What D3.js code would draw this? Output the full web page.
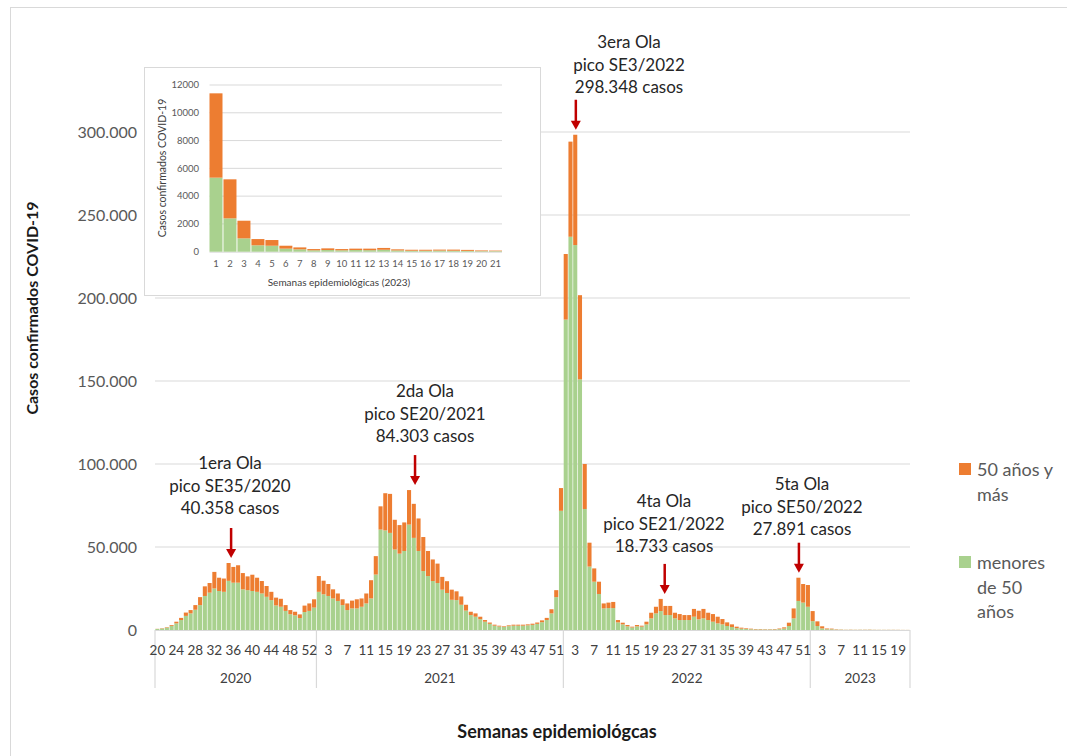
<!DOCTYPE html>
<html>
<head>
<meta charset="utf-8">
<script src="https://cdn.jsdelivr.net/npm/d3@7"></script>
<style>
  body { margin: 0; background: #fff; }
  svg { display: block; font-family: Lato, "Open Sans", sans-serif; }
</style>
</head>
<body>
<svg id="chart" width="1067" height="756"></svg>
<script>
// ---------------- DATA ----------------
// Epidemiological week ranges shown on the main axis
const years = ["2020", "2021", "2022", "2023"];
const firstWeek = [20, 1, 1, 1];
const lastWeek = [53, 52, 52, 21];

// menores de 50 años (green), per week
const menores2020 = [600, 900, 1400, 2500, 4000, 6000, 8500, 10000, 12200, 15000, 20500, 22500, 25000, 23500, 23000, 29600, 28500, 28500, 24500, 24000, 23500, 23000, 22000, 20000, 18000, 14800, 14000, 11500, 9500, 8800, 7200, 10800, 11500, 13500];
const mayores2020 = [100, 200, 300, 500, 1000, 1300, 2000, 2000, 2800, 4800, 5800, 5800, 10000, 8000, 8000, 10758, 9500, 10500, 9800, 8300, 9800, 8500, 7500, 6500, 5000, 4700, 4800, 3500, 2500, 2200, 2200, 3900, 4500, 5000];

const menores2021 = [23000, 21500, 20500, 19000, 17500, 15000, 12000, 13000, 13000, 14000, 16000, 19000, 33400, 60500, 60000, 58500, 48500, 46000, 47600, 63500, 55500, 47600, 35500, 32500, 29500, 28300, 24300, 22300, 18200, 18000, 15200, 11700, 9000, 8000, 6500, 5000, 3700, 2600, 2100, 1800, 2300, 2600, 2600, 2600, 2800, 3100, 3700, 4700, 6000, 10000, 19800, 71800];
const mayores2021 = [9500, 8200, 7200, 5500, 4500, 3500, 4000, 4700, 5500, 5000, 6000, 11000, 11100, 14000, 22400, 23500, 17900, 17200, 17200, 20803, 20500, 19600, 20500, 15100, 13000, 11700, 7700, 7100, 6100, 5300, 5000, 3500, 2000, 2000, 1500, 1000, 800, 600, 500, 400, 500, 600, 600, 600, 600, 700, 800, 1100, 1300, 2500, 4200, 13700];

const menores2022 = [187000, 236900, 231900, 151000, 72900, 38200, 29100, 21700, 13000, 13200, 13200, 4600, 3400, 2200, 1500, 2200, 2000, 3400, 7000, 10000, 11400, 9000, 9000, 7000, 6000, 6000, 6000, 8000, 6400, 7000, 6000, 5000, 4000, 3400, 2400, 1800, 1100, 800, 600, 450, 350, 350, 300, 300, 350, 500, 900, 2400, 7000, 17500, 16500, 14000];
const mayores2022 = [39500, 57300, 66448, 50700, 27100, 14400, 8000, 7400, 3000, 3300, 3700, 1400, 1000, 800, 500, 800, 600, 1600, 3400, 4000, 7333, 5500, 5500, 3400, 3600, 3000, 3000, 4700, 5200, 5700, 4400, 4600, 4000, 3200, 2200, 1600, 900, 600, 400, 350, 250, 250, 200, 200, 250, 400, 700, 2000, 6000, 14000, 11200, 13100];

const menores2023 = [5330, 2400, 960, 460, 430, 220, 170, 100, 120, 100, 120, 110, 140, 90, 70, 70, 80, 70, 60, 40, 40];
const mayores2023 = [6070, 2810, 1270, 450, 410, 210, 140, 90, 120, 90, 100, 110, 130, 80, 70, 70, 70, 80, 70, 50, 40];

const seriesNames = ["menores de 50 años", "50 años y más"];
const yTicks = [0, 50000, 100000, 150000, 200000, 250000, 300000];
const insetYTicks = [0, 2000, 4000, 6000, 8000, 10000, 12000];

// Peak annotations
const annotWeekIndex = [15, 53, 88, 106, 135];   // index in the weekly sequence
const annotLines = [
  ["1era Ola", "pico SE35/2020", "40.358 casos"],
  ["2da Ola", "pico SE20/2021", "84.303 casos"],
  ["3era Ola", "pico SE3/2022", "298.348 casos"],
  ["4ta Ola", "pico SE21/2022", "18.733 casos"],
  ["5ta Ola", "pico SE50/2022", "27.891 casos"]
];

// ---------------- LAYOUT / STYLE ----------------
const GREEN = "#a9d18e", ORANGE = "#ed7d31", RED = "#c00000", GRID = "#d9d9d9";
const arrowDx = [2.5, 6, 0.6, 4, 0.5];
const textPos = [[230, 463], [425, 391], [629, 42], [664, 501], [802, 484]];

// ---------------- BUILD ----------------
const menoresAll = [menores2020, menores2021, menores2022, menores2023];
const mayoresAll = [mayores2020, mayores2021, mayores2022, mayores2023];
const rows = [];
years.forEach((yr, yi) => {
  for (let w = firstWeek[yi], k = 0; w <= lastWeek[yi]; w++, k++) {
    rows.push({ i: rows.length, year: yr, week: w, menores: menoresAll[yi][k], mayores: mayoresAll[yi][k] });
  }
});

const svg = d3.select("#chart");
svg.append("rect").attr("x", 10.5).attr("y", 7.5).attr("width", 1100).attr("height", 800)
  .attr("fill", "#fff").attr("stroke", GRID);

const x = d3.scaleBand().domain(rows.map(d => d.i)).range([155, 910]).paddingInner(0.14).paddingOuter(0.07);
const y = d3.scaleLinear().domain([0, 300000]).range([630, 132]);

// gridlines
svg.append("g").selectAll("line").data(yTicks.filter(t => t > 0)).join("line")
  .attr("x1", 155).attr("x2", 910).attr("y1", d => y(d)).attr("y2", d => y(d))
  .attr("stroke", GRID).attr("stroke-width", 1.2);

// y labels
svg.append("g").selectAll("text").data(yTicks).join("text")
  .attr("x", 137).attr("y", d => y(d)).attr("dy", "0.35em")
  .attr("text-anchor", "end").attr("fill", "#595959").attr("font-size", 16)
  .text(d => d3.format(",")(d).replace(/,/g, "."));

// stacked bars
const stack = d3.stack().keys(["menores", "mayores"]);
const stacked = stack(rows);
const colors = [GREEN, ORANGE];
svg.append("g").selectAll("g").data(stacked).join("g").attr("fill", (d, i) => colors[i])
  .selectAll("rect").data(d => d).join("rect")
  .attr("x", d => x(d.data.i)).attr("width", x.bandwidth())
  .attr("y", d => y(d[1])).attr("height", d => Math.max(0, y(d[0]) - y(d[1])));

// x axis line and group lines
svg.append("line").attr("x1", 155).attr("x2", 910).attr("y1", 630.5).attr("y2", 630.5).attr("stroke", GRID).attr("stroke-width", 1.2);
const bounds = [];
years.forEach(yr => {
  const r = rows.filter(d => d.year === yr);
  bounds.push({ year: yr, x0: x(r[0].i) - x.step() * x.paddingInner() / 2, x1: x(r[r.length - 1].i) + x.bandwidth() + x.step() * x.paddingInner() / 2 });
});
bounds[0].x0 = 155; bounds[bounds.length - 1].x1 = 910;
const sepX = [bounds[0].x0].concat(bounds.map(b => b.x1));
svg.append("g").selectAll("line").data(sepX).join("line")
  .attr("x1", d => d).attr("x2", d => d).attr("y1", 630).attr("y2", 688)
  .attr("stroke", GRID).attr("stroke-width", 1.2);

// week tick labels
const xAxis = d3.axisBottom(x).tickValues(rows.filter(d => d.i % 4 === 0).map(d => d.i))
  .tickFormat(i => rows[i].week).tickSize(0).tickPadding(0);
const gx = svg.append("g").attr("transform", "translate(0,630)").call(xAxis);
gx.select(".domain").remove();
gx.selectAll("text").attr("y", 0).attr("dy", "25px").attr("font-size", 13.5).attr("fill", "#404040").attr("font-family", "Lato");

// year labels
svg.append("g").selectAll("text").data(bounds).join("text")
  .attr("x", d => (d.x0 + d.x1) / 2).attr("y", 683).attr("text-anchor", "middle")
  .attr("font-size", 13.5).attr("fill", "#404040").text(d => d.year);

// axis titles
svg.append("text").attr("transform", "translate(38,308) rotate(-90)").attr("text-anchor", "middle")
  .attr("font-size", 16).attr("font-weight", "bold").attr("fill", "#1a1a1a").text("Casos confirmados COVID-19");
svg.append("text").attr("x", 557).attr("y", 738).attr("text-anchor", "middle")
  .attr("font-size", 18).attr("font-weight", "bold").attr("fill", "#1a1a1a").text("Semanas epidemiológcas");

// annotations
annotWeekIndex.forEach((wi, k) => {
  const d = rows[wi];
  const ax = x(wi) + x.bandwidth() / 2 + arrowDx[k];
  const tip = y(d.menores + d.mayores) - 5;
  svg.append("line").attr("x1", ax).attr("x2", ax).attr("y1", tip - 30).attr("y2", tip - 8)
    .attr("stroke", RED).attr("stroke-width", 2.5);
  svg.append("path").attr("d", `M${ax - 5},${tip - 9} L${ax + 5},${tip - 9} L${ax},${tip} Z`).attr("fill", RED);
  const t = svg.append("text").attr("text-anchor", "middle").attr("font-size", 17).attr("fill", "#262626");
  annotLines[k].forEach((ln, j) => {
    t.append("tspan").attr("x", textPos[k][0]).attr("y", textPos[k][1] + 6 + j * 22.5).text(ln);
  });
});

// legend
const legend = svg.append("g").attr("font-size", 18).attr("fill", "#595959");
const legItems = [
  { color: ORANGE, lines: ["50 años y", "más"], y: 463 },
  { color: GREEN, lines: ["menores", "de 50", "años"], y: 556 }
];
legItems.forEach(it => {
  legend.append("rect").attr("x", 959).attr("y", it.y).attr("width", 12).attr("height", 12).attr("fill", it.color);
  const t = legend.append("text");
  it.lines.forEach((ln, j) => t.append("tspan").attr("x", 977).attr("y", it.y + 13 + j * 24.5).text(ln));
});

// ---------------- INSET ----------------
const inset = svg.append("g");
inset.append("rect").attr("x", 144.5).attr("y", 67.5).attr("width", 396).attr("height", 228)
  .attr("fill", "#fff").attr("stroke", GRID);
const insetRows = rows.filter(d => d.year === "2023");
const xi = d3.scaleBand().domain(insetRows.map(d => d.week)).range([209.5, 502]).paddingInner(0.07);
const yi = d3.scaleLinear().domain([0, 12000]).range([251.7, 85]);
inset.append("g").selectAll("line").data(insetYTicks.filter(t => t > 0)).join("line")
  .attr("x1", 209.5).attr("x2", 502).attr("y1", d => yi(d)).attr("y2", d => yi(d)).attr("stroke", GRID);
inset.append("line").attr("x1", 209.5).attr("x2", 502).attr("y1", yi(0) + 0.5).attr("y2", yi(0) + 0.5).attr("stroke", GRID);
inset.append("g").selectAll("text").data(insetYTicks).join("text")
  .attr("x", 199).attr("y", d => yi(d)).attr("dy", "0.35em").attr("text-anchor", "end")
  .attr("font-size", 9.5).attr("fill", "#595959").text(d => d);
const stackedI = stack(insetRows);
inset.append("g").selectAll("g").data(stackedI).join("g").attr("fill", (d, i) => colors[i])
  .selectAll("rect").data(d => d).join("rect")
  .attr("x", d => xi(d.data.week)).attr("width", xi.bandwidth())
  .attr("y", d => yi(d[1])).attr("height", d => Math.max(0, yi(d[0]) - yi(d[1])));
const xiAxis = d3.axisBottom(xi).tickSize(0).tickPadding(0);
const gxi = inset.append("g").attr("transform", `translate(0,${yi(0)})`).call(xiAxis);
gxi.select(".domain").remove();
gxi.selectAll("text").attr("y", 0).attr("dy", "15.5px").attr("font-size", 9.5).attr("fill", "#595959").attr("font-family", "Lato");
inset.append("text").attr("transform", "translate(166,168) rotate(-90)").attr("text-anchor", "middle")
  .attr("font-size", 10.5).attr("fill", "#404040").text("Casos confirmados COVID-19");
inset.append("text").attr("x", 339).attr("y", 286).attr("text-anchor", "middle")
  .attr("font-size", 10).attr("fill", "#404040").text("Semanas epidemiológicas (2023)");
</script>
</body>
</html>
